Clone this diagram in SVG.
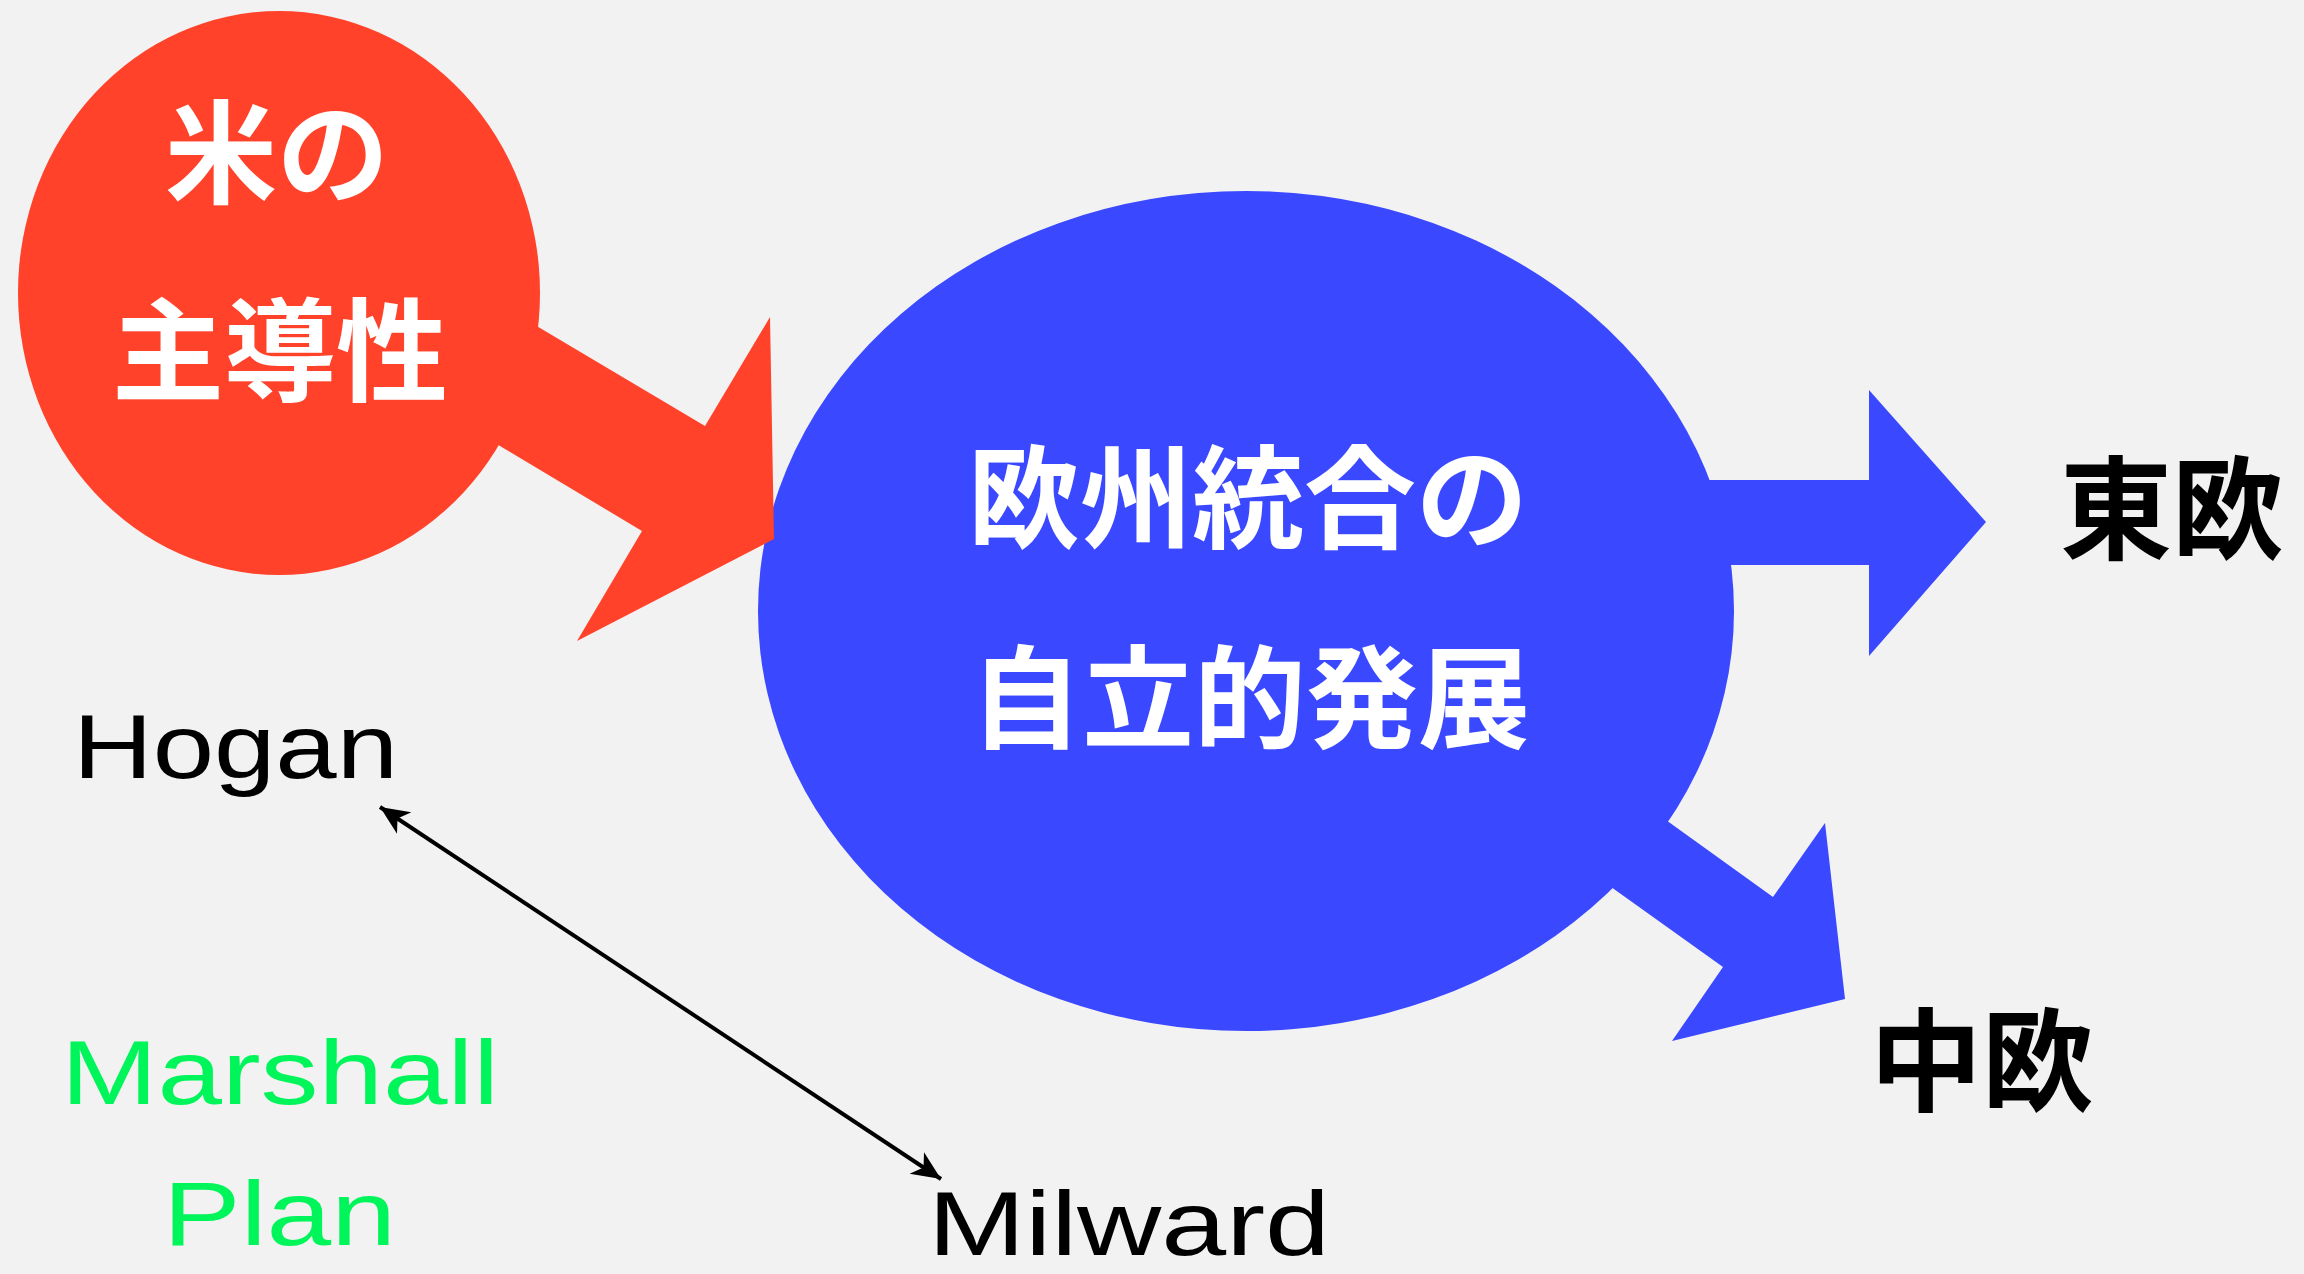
<svg xmlns="http://www.w3.org/2000/svg" width="2304" height="1274" viewBox="0 0 2304 1274">
  <style>
    .cjk { font-family: "Noto Sans CJK JP", "Noto Sans CJK SC", sans-serif; font-weight: bold; font-size: 112px; text-anchor: middle; }
    .white { fill: #ffffff; }
    .black { fill: #000000; }
    .hand { font-family: "Liberation Sans", "DejaVu Sans", sans-serif; font-size: 90px; }
    .red { fill: #ff4229; }
    .blue { fill: #3a48ff; }
    .green { fill: #00f55a; }
  </style>
  <defs>
    <marker id="head" viewBox="-30 -14 32 28" refX="0" refY="0" markerWidth="32" markerHeight="28" markerUnits="userSpaceOnUse" orient="auto-start-reverse">
      <path d="M0,0 L-29,-13 L-21,0 L-29,13 Z" fill="#000000"/>
    </marker>
  </defs>
  <rect x="0" y="0" width="2304" height="1274" fill="#f2f2f2"/>

  <g id="node-europe">
    <ellipse cx="1246" cy="611" rx="488" ry="420" class="blue"/>
    <polygon class="blue" points="1650,480 1869,480 1869,390 1986,522 1869,656 1869,565 1650,565"/>
    <polygon class="blue" points="1570,751 1773,897 1825,823 1845,999 1672,1041 1723,967 1513,817"/>
    <text class="cjk white" x="1248" y="540">欧州統合の</text>
    <text class="cjk white" x="1250" y="740">自立的発展</text>
  </g>

  <g id="node-us">
    <ellipse cx="279" cy="293" rx="261" ry="282" class="red"/>
    <polygon class="red" points="400,245 705,426 770,317 774,539 577,641 642,531 360,362"/>
    <text class="cjk white" x="277" y="195">米の</text>
    <text class="cjk white" x="280" y="393">主導性</text>
  </g>

  <g id="node-east">
    <text class="cjk black" x="2172" y="551">東欧</text>
  </g>
  <g id="node-central">
    <text class="cjk black" x="1982" y="1103">中欧</text>
  </g>

  <g id="node-hogan">
    <text class="hand black" x="73" y="778" textLength="325" lengthAdjust="spacingAndGlyphs">Hogan</text>
  </g>
  <g id="node-marshall">
    <text class="hand green" x="61" y="1104" textLength="438" lengthAdjust="spacingAndGlyphs">Marshall</text>
    <text class="hand green" x="163" y="1245" textLength="233" lengthAdjust="spacingAndGlyphs">Plan</text>
  </g>
  <g id="node-milward">
    <text class="hand black" x="928" y="1255" textLength="402" lengthAdjust="spacingAndGlyphs">Milward</text>
  </g>

  <g id="connectors">
    <line x1="380" y1="807" x2="941" y2="1179" stroke="#000000" stroke-width="4" marker-start="url(#head)" marker-end="url(#head)"/>
  </g>
</svg>
